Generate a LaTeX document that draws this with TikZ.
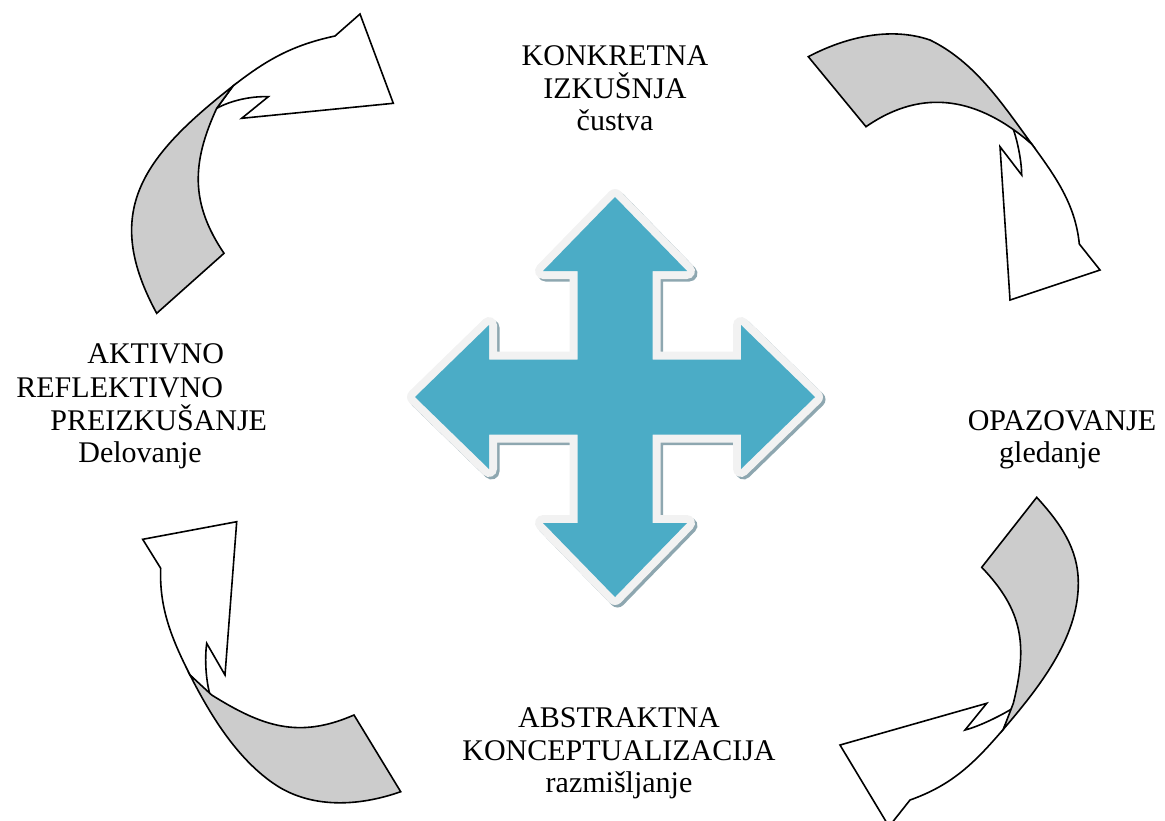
\documentclass[tikz,border=0pt]{standalone}
\usepackage{fontspec}
\setmainfont{Liberation Serif}
\definecolor{crossblue}{HTML}{4BACC6}
\definecolor{crossrim}{HTML}{F2F2F2}
\definecolor{crossshade}{HTML}{8EA7B0}
\definecolor{backgray}{HTML}{CCCCCC}
\newcommand{\crossoutline}{(615,197) -- (687,271) -- (652.5,271) -- (652.5,359.5) -- (741,359.5) -- (741,325) -- (815,397) -- (741,469) -- (741,434.5) -- (652.5,434.5) -- (652.5,523) -- (687,523) -- (615,597) -- (543,523) -- (577.5,523) -- (577.5,434.5) -- (489,434.5) -- (489,469) -- (415,397) -- (489,325) -- (489,359.5) -- (577.5,359.5) -- (577.5,271) -- (543,271) -- cycle}

\begin{document}
\begin{tikzpicture}[x=0.5pt,y=-0.5pt,
  backface/.style={fill=backgray,draw=black,line width=0.8pt},
  frontface/.style={fill=white,draw=black,line width=0.8pt},
  lbl/.style={font=\fontsize{15}{16}\selectfont,anchor=base,inner sep=0pt}]
\useasboundingbox (0,0) rectangle (1165,820);
% centre cross
\draw[crossshade,line width=8pt,line join=round,fill=crossshade,shift={(2.5,2.5)}] \crossoutline;
\draw[crossrim,line width=8pt,line join=round] \crossoutline;
\fill[crossblue] \crossoutline;
% top left arrow
\filldraw[frontface] (216.7,108.3) -- (233,86) .. controls (267,59.3) and (293,45) .. (335,36) -- (360,14) -- (393.3,103.3) -- (241.7,118.3) -- (268.3,96.7) .. controls (250,96) and (230,101) .. (216.7,108.3) -- cycle;
\filldraw[backface] (156.7,313.3) .. controls (101.5,212) and (142,157.3) .. (233,86) -- (216.7,108.3) .. controls (191.5,162.9) and (190.4,203.5) .. (224,253.3) -- cycle;
% top right arrow
\filldraw[frontface] (1011.7,125) -- (1031.7,144) .. controls (1055.3,176.3) and (1075.3,204) .. (1079.3,244) -- (1100,270) -- (1010,300) -- (1000,146.7) -- (1021.7,175) .. controls (1021.5,160) and (1017,138) .. (1011.7,125) -- cycle;
\filldraw[backface] (808.3,56.7) .. controls (845.5,37.1) and (890.3,26.4) .. (930,40) .. controls (975,62) and (1002.2,103.7) .. (1031.7,144) .. controls (978.9,98.1) and (923.4,86.8) .. (866,126.7) -- cycle;
% bottom right arrow
\filldraw[frontface] (1012.7,708.3) -- (1003.3,729.3) .. controls (974,763.5) and (952,785) .. (910,800) -- (889,826.5) -- (840,745) -- (986.7,703.3) -- (965,730) .. controls (980,726) and (1000,716) .. (1012.7,708.3) -- cycle;
\filldraw[backface] (1036.7,497.3) .. controls (1060.2,523.2) and (1078.3,548.3) .. (1078.3,583.3) .. controls (1078.3,638.3) and (1039,687.5) .. (1003.3,729.3) -- (1013.3,703.3) .. controls (1027.7,645.1) and (1023.1,610.5) .. (981.7,567.3) -- cycle;
% bottom left arrow
\filldraw[frontface] (210,695) -- (190,675) .. controls (172,639.4) and (159.1,608.3) .. (160.7,568.3) -- (142.7,539.3) -- (236.7,521.7) -- (225,675) -- (206.7,643.3) .. controls (204.5,660) and (206,680) .. (210,695) -- cycle;
\filldraw[backface] (400.7,791.7) .. controls (358.4,806.6) and (310.2,809) .. (273.3,783.3) .. controls (236.4,757.7) and (210.3,715) .. (190,675) -- (211.7,695) .. controls (262.7,726.8) and (298.8,739) .. (354,715) -- cycle;
% stage labels
\node[lbl] (konk1) at (615,65) {KONKRETNA};
\node[lbl] (konk2) at (615,98) {IZKUŠNJA};
\node[lbl] (konk3) at (615,130) {čustva};
\node[lbl] (opaz1) at (1062,430) {OPAZOVANJE};
\node[lbl] (opaz2) at (1050,462) {gledanje};
\node[lbl] (abst1) at (619,727) {ABSTRAKTNA};
\node[lbl] (abst2) at (619,760) {KONCEPTUALIZACIJA};
\node[lbl] (abst3) at (619,792) {razmišljanje};
\node[lbl,anchor=base west] (akt1) at (87,363) {AKTIVNO};
\node[lbl,anchor=base west] (akt2) at (16,397) {REFLEKTIVNO};
\node[lbl,anchor=base west] (akt3) at (50,430) {PREIZKUŠANJE};
\node[lbl,anchor=base west] (akt4) at (78,462) {Delovanje};
\end{tikzpicture}
\end{document}
